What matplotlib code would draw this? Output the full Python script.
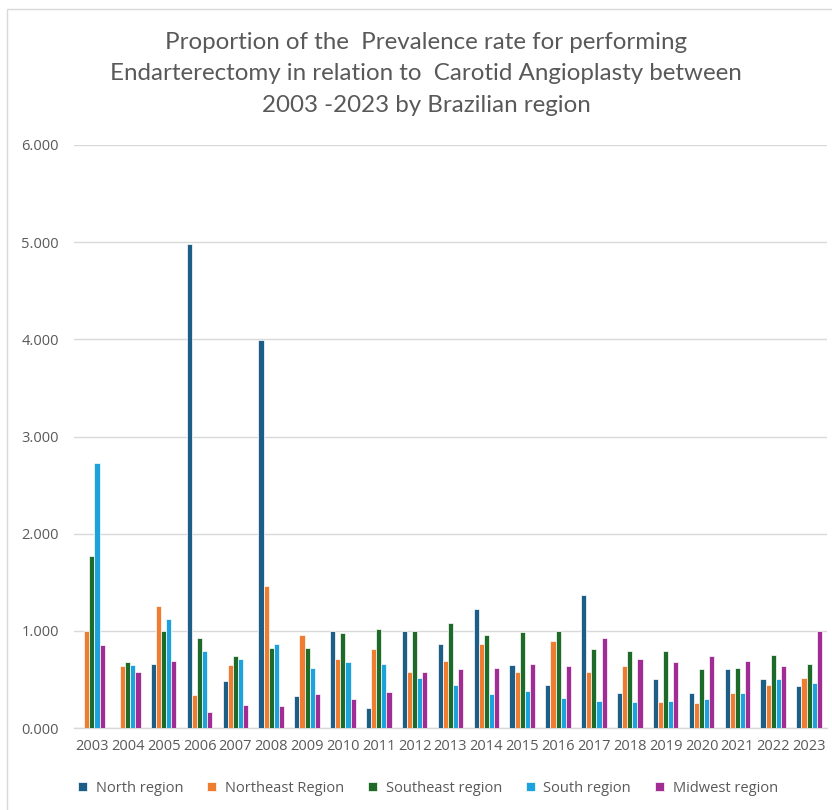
import matplotlib
matplotlib.use("Agg")
import matplotlib.pyplot as plt
import numpy as np
from matplotlib.patches import Rectangle

years = [str(y) for y in range(2003, 2024)]

north = [0.0, 0.0, 0.663, 4.98, 0.488, 3.99, 0.326, 1.0, 0.21, 1.0, 0.869,
         1.22, 0.649, 0.447, 1.368, 0.357, 0.502, 0.357, 0.605, 0.502, 0.43]
northeast = [1.0, 0.636, 1.254, 0.344, 0.649, 1.457, 0.955, 0.708, 0.811, 0.577, 0.694,
             0.869, 0.577, 0.9, 0.577, 0.636, 0.268, 0.254, 0.357, 0.447, 0.519]
southeast = [1.77, 0.68, 1.0, 0.931, 0.739, 0.828, 0.828, 0.973, 1.017, 1.0, 1.076,
             0.955, 0.986, 1.0, 0.811, 0.797, 0.797, 0.605, 0.622, 0.753, 0.663]
south = [2.73, 0.653, 1.12, 0.797, 0.708, 0.869, 0.622, 0.68, 0.663, 0.519, 0.447,
         0.354, 0.385, 0.313, 0.282, 0.268, 0.282, 0.296, 0.357, 0.502, 0.46]
midwest = [0.856, 0.577, 0.694, 0.165, 0.241, 0.223, 0.354, 0.296, 0.371, 0.577, 0.605,
           0.622, 0.663, 0.636, 0.931, 0.708, 0.68, 0.739, 0.694, 0.636, 1.0]

series_names = ["North region", "Northeast Region", "Southeast region",
                "South region", "Midwest region"]
series_values = [north, northeast, southeast, south, midwest]
series_colors = ["#1C5E85", "#EE7D32", "#1E6B29", "#1DA2DC", "#A12C94"]

title = ("Proportion of the  Prevalence rate for performing\n"
         "Endarterectomy in relation to  Carotid Angioplasty between\n"
         "2003 -2023 by Brazilian region")

text_gray = "#595959"
grid_gray = "#D9D9D9"

fig = plt.figure(figsize=(8.32, 8.10), dpi=100)
ax = fig.add_axes([74 / 832, 1 - 728 / 810, (827 - 74) / 832, (728 - 145) / 810])

x = np.arange(len(years))
bar_w = 0.143
for i, (name, vals, col) in enumerate(zip(series_names, series_values, series_colors)):
    offs = (i - 2) * bar_w
    ax.bar(x + offs, vals, width=bar_w, color=col, edgecolor="white",
           linewidth=0.5, label=name, zorder=3)

ax.set_xlim(-0.5, len(years) - 0.5)
ax.set_ylim(0, 6)
ax.set_yticks(np.arange(0, 7, 1))
ax.set_yticklabels([f"{v:.3f}" for v in np.arange(0, 7, 1)])
ax.set_xticks(x)
ax.set_xticklabels(years)

for lab in ax.get_xticklabels() + ax.get_yticklabels():
    lab.set_fontfamily("Open Sans")
    lab.set_fontsize(10.5)
    lab.set_color(text_gray)

ax.tick_params(axis="y", length=0, pad=11)
ax.tick_params(axis="x", length=0, pad=8)
ax.grid(axis="y", color=grid_gray, linewidth=1.0, zorder=0)
for side in ["top", "right", "left"]:
    ax.spines[side].set_visible(False)
ax.spines["bottom"].set_color(grid_gray)
ax.spines["bottom"].set_linewidth(1.0)

fig.text(426 / 832, 1 - 74 / 810, title, ha="center", va="center",
         fontfamily="Lato", fontsize=17.4, color=text_gray, linespacing=1.6)

leg = fig.legend(loc="center", bbox_to_anchor=(428 / 832, 1 - 788 / 810), ncol=5,
                 frameon=False, handlelength=0.6, handleheight=0.6,
                 handletextpad=0.6, columnspacing=1.65,
                 prop=dict(family="Open Sans", size=10.5))
for t in leg.get_texts():
    t.set_color(text_gray)

# light chart-area frame
fig.patches.append(Rectangle((7 / 832, -0.05), 1.2, 1 - 9 / 810 + 0.05,
                             transform=fig.transFigure, fill=False,
                             edgecolor=grid_gray, linewidth=1.0))

fig.savefig("out.png", dpi=100, facecolor="white")
